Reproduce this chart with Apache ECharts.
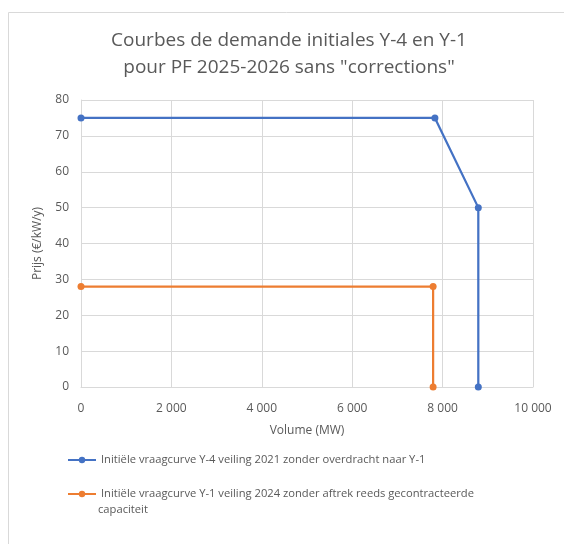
<!DOCTYPE html>
<html><head><meta charset="utf-8">
<script src="https://cdn.jsdelivr.net/npm/echarts@6/dist/echarts.min.js"></script>
<style>html,body{margin:0;padding:0;background:#fff}#c{width:564px;height:544px}</style>
</head><body><div id="c"></div>
<script>
const seriesNames = [
  "Initiële vraagcurve Y-4 veiling 2021 zonder overdracht naar Y-1",
  "Initiële vraagcurve Y-1 veiling 2024 zonder aftrek reeds gecontracteerde capaciteit"
];
const legendLine1 = "Initiële vraagcurve Y-1 veiling 2024 zonder aftrek reeds gecontracteerde";
const legendLine2 = "capaciteit";
const blueVolume = [0, 7830, 8790, 8790];
const bluePrice = [75, 75, 50, 0];
const orangeVolume = [0, 7790, 7790];
const orangePrice = [28, 28, 0];
const titleText = "Courbes de demande initiales Y-4 en Y-1\npour PF 2025-2026 sans \"corrections\"";
const xName = "Volume (MW)";
const yName = "Prijs (€/kW/y)";

const font = "'Open Sans', sans-serif";
const chart = echarts.init(document.getElementById('c'));
const pair = (xs, ys) => xs.map((x, i) => [x, ys[i]]);
chart.setOption({
  animation: false,
  textStyle: { fontFamily: font },
  graphic: [
    { type: 'rect', shape: { x: 8.5, y: 12.5, width: 700, height: 700 }, style: { fill: 'none', stroke: '#d9d9d9', lineWidth: 1 } },
    { type: 'text', x: 289, y: 27, style: { text: titleText, textAlign: 'center', fontFamily: font, fontSize: 19, lineHeight: 27, fill: '#595959' } },
    { type: 'text', x: 98, y: 504, style: { text: legendLine2, fontFamily: font, fontSize: 11.2, fill: '#595959' } }
  ],
  grid: { left: 81, right: 31, top: 100, bottom: 157, containLabel: false },
  xAxis: {
    type: 'value', min: 0, max: 10000, interval: 2000,
    name: xName, nameLocation: 'middle', nameGap: 38,
    nameTextStyle: { fontFamily: font, fontSize: 12, color: '#595959' },
    axisLine: { show: true, lineStyle: { color: '#d9d9d9' } },
    axisTick: { show: false },
    splitLine: { show: true, lineStyle: { color: '#d9d9d9' } },
    axisLabel: { color: '#595959', fontSize: 12, margin: 16, formatter: v => String(v).replace(/\B(?=(\d{3})+(?!\d))/g, ' ') }
  },
  yAxis: {
    type: 'value', min: 0, max: 80, interval: 10,
    name: yName, nameLocation: 'middle', nameGap: 37, nameRotate: 90,
    nameTextStyle: { fontFamily: font, fontSize: 12, color: '#595959' },
    axisLine: { show: true, lineStyle: { color: '#d9d9d9' } },
    axisTick: { show: false },
    splitLine: { show: true, lineStyle: { color: '#d9d9d9' } },
    axisLabel: { color: '#595959', fontSize: 12, margin: 12 }
  },
  legend: {
    orient: 'vertical', left: 62, top: 448, itemWidth: 28, itemHeight: 8, itemGap: 20,
    textStyle: { fontFamily: font, fontSize: 11.2, color: '#595959', lineHeight: 14 },
    formatter: n => n === seriesNames[1] ? legendLine1 : n,
    data: seriesNames
  },
  series: [
    { name: seriesNames[0], type: 'line', data: pair(blueVolume, bluePrice), symbol: 'circle', symbolSize: 7,
      lineStyle: { color: '#4472c4', width: 2.25 }, itemStyle: { color: '#4472c4' } },
    { name: seriesNames[1], type: 'line', data: pair(orangeVolume, orangePrice), symbol: 'circle', symbolSize: 7,
      lineStyle: { color: '#ed7d31', width: 2.25 }, itemStyle: { color: '#ed7d31' } }
  ]
});
</script></body></html>
